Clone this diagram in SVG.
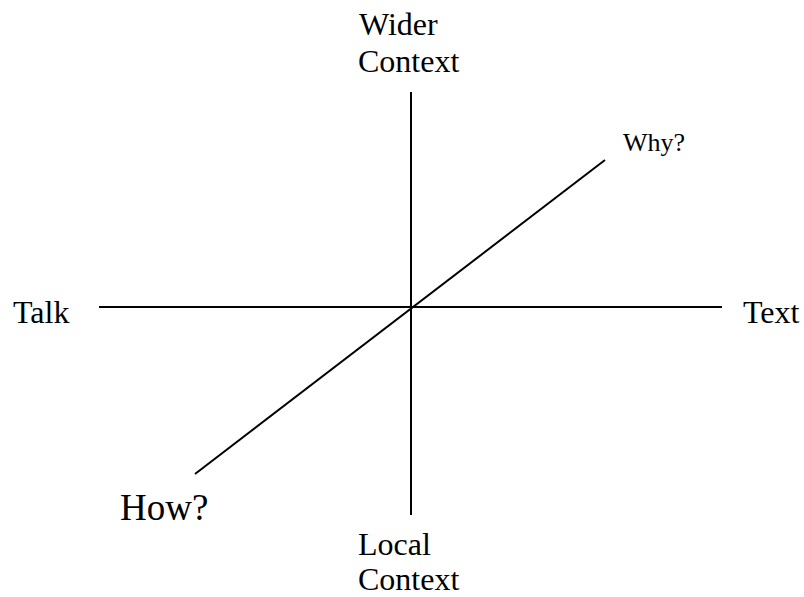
<svg xmlns="http://www.w3.org/2000/svg" width="804" height="597" viewBox="0 0 804 597">
<style>
.t{font-family:"Liberation Serif","Times New Roman",serif;fill:#000}
.ax{stroke:#000;stroke-width:2;fill:none}
</style>
<rect width="804" height="597" fill="#fff"/>
<g id="connectors">
<line class="ax" x1="99" y1="307" x2="722" y2="307"/>
<line class="ax" x1="411" y1="92" x2="411" y2="515"/>
<line class="ax" x1="195" y1="474" x2="605" y2="160"/>
</g>
<g id="wider"><text class="t" font-size="32" x="359" y="35">Wider</text><text class="t" font-size="32" x="358" y="72">Context</text></g>
<g id="local"><text class="t" font-size="32" x="358" y="555">Local</text><text class="t" font-size="32" x="358" y="590">Context</text></g>
<g id="talk"><text class="t" font-size="32" x="13" y="323">Talk</text></g>
<g id="text"><text class="t" font-size="32" x="743" y="323">Text</text></g>
<g id="why"><text class="t" font-size="26" x="623" y="151">Why?</text></g>
<g id="how"><text class="t" font-size="37" x="120" y="520">How?</text></g>
</svg>
